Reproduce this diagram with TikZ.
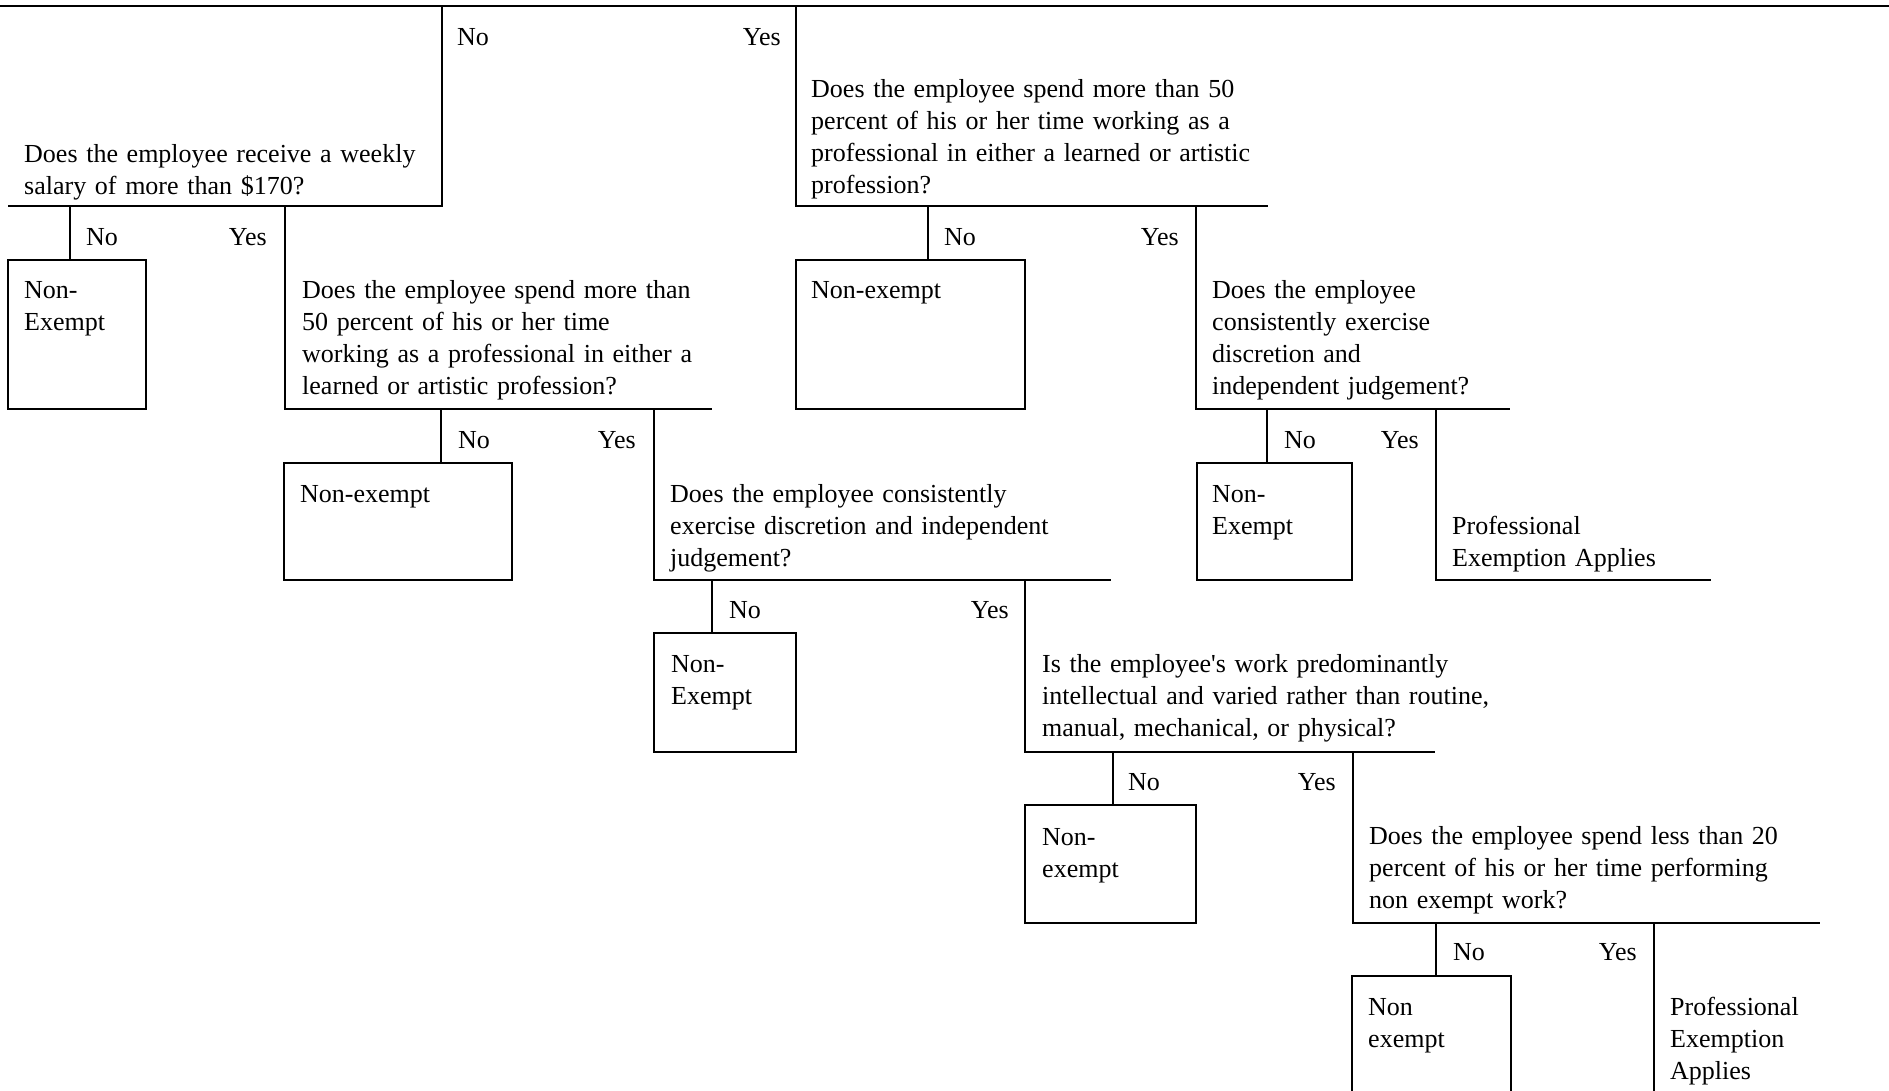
\documentclass[tikz,border=0pt]{standalone}
\usepackage{fontspec}
\setmainfont{Liberation Serif}
\newcommand{\qfont}{\fontsize{26.0pt}{32pt}\selectfont}
\begin{document}
\begin{tikzpicture}[x=1pt,y=-1pt,
  ln/.style={line width=2.6pt},
  txt/.style={anchor=base west, inner sep=0pt, text width=620pt, align=left, font=\qfont},
  nolab/.style={anchor=base west, inner sep=0pt, font=\qfont},
  yeslab/.style={anchor=base east, inner sep=0pt, font=\qfont},
  rbox/.style={draw, line width=2.6pt, anchor=north west, inner sep=0pt, outer sep=0pt},
]
\useasboundingbox (0,0) rectangle (1889,1090);
\clip (0,0) rectangle (1889,1090);

% ---------- top line ----------
\coordinate (tl) at (0,6); \coordinate (tr) at (1889,6);
\draw[ln] (tl) -- (tr);

% ---------- Q1 (No branch of top) ----------
\coordinate (q1a) at (442,6); \coordinate (q1b) at (442,206); \coordinate (q1c) at (8,206);
\draw[ln] (q1a) -- (q1b) -- (q1c);
\node[nolab] (topno) at (457,45) {No};
\node[yeslab] (topyes) at (781,45) {Yes};
\node[txt] (q1) at (24,162) {Does the employee receive a weekly\\salary of more than \$170?};

% ---------- Q2 (Yes branch of top) ----------
\coordinate (q2a) at (796,6); \coordinate (q2b) at (796,206); \coordinate (q2c) at (1268,206);
\draw[ln] (q2a) -- (q2b) -- (q2c);
\node[txt] (q2) at (811,97) {Does the employee spend more than 50\\percent of his or her time working as a\\professional in either a learned or artistic\\profession?};

% ---------- Q1 children ----------
\node[rbox, minimum width=138pt, minimum height=149pt] (b1) at (8,260) {};
\coordinate (q1no) at (70,206);
\draw[ln] (q1no) -- (q1no |- b1.north);
\node[nolab] (q1nol) at (86,245) {No};
\node[yeslab] (q1yesl) at (267,245) {Yes};
\node[txt] (b1t) at (24,298) {Non-\\Exempt};
\coordinate (q3a) at (285,206); \coordinate (q3b) at (285,409); \coordinate (q3c) at (712,409);
\draw[ln] (q3a) -- (q3b) -- (q3c);
\node[txt] (q3) at (302,298) {Does the employee spend more than\\50 percent of his or her time\\working as a professional in either a\\learned or artistic profession?};

% ---------- Q2 children ----------
\node[rbox, minimum width=229pt, minimum height=149pt] (b2) at (796,260) {};
\coordinate (q2no) at (928,206);
\draw[ln] (q2no) -- (q2no |- b2.north);
\node[nolab] (q2nol) at (944,245) {No};
\node[yeslab] (q2yesl) at (1179,245) {Yes};
\node[txt] (b2t) at (811,298) {Non-exempt};
\coordinate (q4a) at (1196,206); \coordinate (q4b) at (1196,409); \coordinate (q4c) at (1510,409);
\draw[ln] (q4a) -- (q4b) -- (q4c);
\node[txt] (q4) at (1212,298) {Does the employee\\consistently exercise\\discretion and\\independent judgement?};

% ---------- Q3 children ----------
\node[rbox, minimum width=228pt, minimum height=117pt] (b3) at (284,463) {};
\coordinate (q3no) at (441,409);
\draw[ln] (q3no) -- (q3no |- b3.north);
\node[nolab] (q3nol) at (458,448) {No};
\node[yeslab] (q3yesl) at (636,448) {Yes};
\node[txt] (b3t) at (300,502) {Non-exempt};
\coordinate (q5a) at (654,409); \coordinate (q5b) at (654,580); \coordinate (q5c) at (1111,580);
\draw[ln] (q5a) -- (q5b) -- (q5c);
\node[txt] (q5) at (670,502) {Does the employee consistently\\exercise discretion and independent\\judgement?};

% ---------- Q4 children ----------
\node[rbox, minimum width=155pt, minimum height=117pt] (b4) at (1197,463) {};
\coordinate (q4no) at (1267,409);
\draw[ln] (q4no) -- (q4no |- b4.north);
\node[nolab] (q4nol) at (1284,448) {No};
\node[yeslab] (q4yesl) at (1419,448) {Yes};
\node[txt] (b4t) at (1212,502) {Non-\\Exempt};
\coordinate (p1a) at (1436,409); \coordinate (p1b) at (1436,580); \coordinate (p1c) at (1711,580);
\draw[ln] (p1a) -- (p1b) -- (p1c);
\node[txt] (p1) at (1452,534) {Professional\\Exemption Applies};

% ---------- Q5 children ----------
\node[rbox, minimum width=142pt, minimum height=119pt] (b5) at (654,633) {};
\coordinate (q5no) at (712,580);
\draw[ln] (q5no) -- (q5no |- b5.north);
\node[nolab] (q5nol) at (729,618) {No};
\node[yeslab] (q5yesl) at (1009,618) {Yes};
\node[txt] (b5t) at (671,672) {Non-\\Exempt};
\coordinate (q6a) at (1025,580); \coordinate (q6b) at (1025,752); \coordinate (q6c) at (1435,752);
\draw[ln] (q6a) -- (q6b) -- (q6c);
\node[txt] (q6) at (1042,672) {Is the employee\textquotesingle s work predominantly\\intellectual and varied rather than routine,\\manual, mechanical, or physical?};

% ---------- Q6 children ----------
\node[rbox, minimum width=171pt, minimum height=118pt] (b6) at (1025,805) {};
\coordinate (q6no) at (1113,752);
\draw[ln] (q6no) -- (q6no |- b6.north);
\node[nolab] (q6nol) at (1128,790) {No};
\node[yeslab] (q6yesl) at (1336,790) {Yes};
\node[txt] (b6t) at (1042,845) {Non-\\exempt};
\coordinate (q7a) at (1353,752); \coordinate (q7b) at (1353,923); \coordinate (q7c) at (1820,923);
\draw[ln] (q7a) -- (q7b) -- (q7c);
\node[txt] (q7) at (1369,844) {Does the employee spend less than 20\\percent of his or her time performing\\non exempt work?};

% ---------- Q7 children ----------
\node[rbox, minimum width=159pt, minimum height=140pt] (b7) at (1352,976) {};
\coordinate (q7no) at (1436,923);
\draw[ln] (q7no) -- (q7no |- b7.north);
\node[nolab] (q7nol) at (1453,960) {No};
\node[yeslab] (q7yesl) at (1637,960) {Yes};
\node[txt] (b7t) at (1368,1015) {Non\\exempt};
\coordinate (p2a) at (1654,923); \coordinate (p2b) at (1654,1100);
\draw[ln] (p2a) -- (p2b);
\node[txt] (p2) at (1670,1015) {Professional\\Exemption\\Applies};
\end{tikzpicture}
\end{document}
